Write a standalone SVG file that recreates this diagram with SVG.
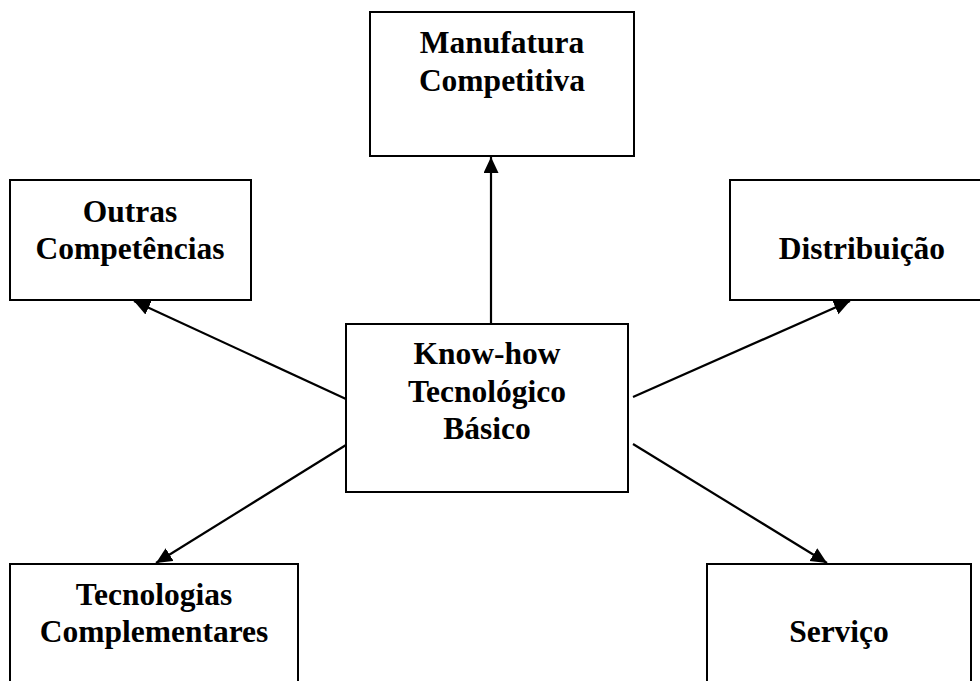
<svg xmlns="http://www.w3.org/2000/svg" width="980" height="681" viewBox="0 0 980 681">
  <style>
    .box { fill: #fff; stroke: #000; stroke-width: 2; }
    .lbl { font-family: "Liberation Serif", "Times New Roman", serif; font-weight: bold; font-size: 31.5px; fill: #000; text-anchor: middle; }
    .edge { stroke: #000; stroke-width: 2.2; fill: none; marker-end: url(#arrow); }
  </style>
  <defs>
    <marker id="arrow" markerUnits="userSpaceOnUse" markerWidth="17" markerHeight="16" refX="16" refY="7.5" orient="auto">
      <path d="M0,0 L16,7.5 L0,15 Z" fill="#000"/>
    </marker>
  </defs>
  <rect width="980" height="681" fill="#fff"/>

  <!-- connectors from the central node -->
  <g id="connectors">
    <line class="edge" x1="491" y1="323" x2="491" y2="157"/>
    <line class="edge" x1="346" y1="399" x2="134" y2="301"/>
    <line class="edge" x1="633" y1="397" x2="850" y2="301"/>
    <line class="edge" x1="346" y1="445" x2="156" y2="563"/>
    <line class="edge" x1="633" y1="444" x2="827" y2="563"/>
  </g>

  <g id="manufatura">
    <rect class="box" x="370" y="12" width="264" height="144"/>
    <text class="lbl" x="502" y="53">Manufatura</text>
    <text class="lbl" x="502" y="91">Competitiva</text>
  </g>

  <g id="outras">
    <rect class="box" x="10" y="180" width="241" height="120"/>
    <text class="lbl" x="130" y="222">Outras</text>
    <text class="lbl" x="130" y="259">Competências</text>
  </g>

  <g id="distribuicao">
    <rect class="box" x="730" y="180" width="264" height="120"/>
    <text class="lbl" x="862" y="259">Distribuição</text>
  </g>

  <g id="knowhow">
    <rect class="box" x="346" y="324" width="282" height="168"/>
    <text class="lbl" x="487" y="364">Know-how</text>
    <text class="lbl" x="487" y="402">Tecnológico</text>
    <text class="lbl" x="487" y="439">Básico</text>
  </g>

  <g id="tecnologias">
    <rect class="box" x="10" y="564" width="288" height="140"/>
    <text class="lbl" x="154" y="605">Tecnologias</text>
    <text class="lbl" x="154" y="642">Complementares</text>
  </g>

  <g id="servico">
    <rect class="box" x="707" y="564" width="264" height="140"/>
    <text class="lbl" x="839" y="642">Serviço</text>
  </g>
</svg>
